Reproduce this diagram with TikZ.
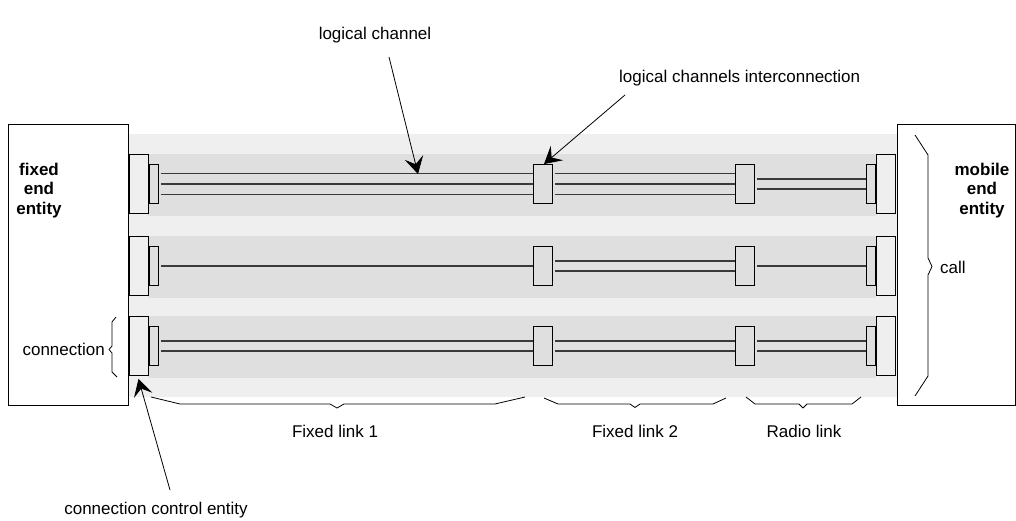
\documentclass[tikz,border=0pt]{standalone}
\usepackage{fontspec}
\setmainfont{Liberation Sans}
\usetikzlibrary{arrows.meta}
\definecolor{bandlight}{HTML}{EFEFEF}
\definecolor{banddark}{HTML}{DFDFDF}
\definecolor{chgray}{HTML}{3A3A3A}
\newcommand\chanlines[3]{%
  \foreach \o in {#3} {\draw[chline] ([xshift=3pt,yshift=\o pt]#1.east) -- ([yshift=\o pt]#2.west);}}
\begin{document}
\begin{tikzpicture}[x=1pt,y=-1pt,
  lbl/.style={font=\fontsize{17}{20}\selectfont, inner sep=0pt},
  ent/.style={font=\fontsize{17}{19.5}\selectfont\bfseries, align=center, inner sep=0pt},
  bigbox/.style={draw=black, fill=bandlight, line width=0.9pt, minimum width=19pt, minimum height=59pt, inner sep=0pt},
  smallbox/.style={draw=black, fill=banddark, line width=0.9pt, minimum width=9pt, minimum height=39pt, inner sep=0pt},
  midbox/.style={draw=black, fill=banddark, line width=0.9pt, minimum width=19pt, minimum height=39pt, inner sep=0pt},
  chline/.style={draw=chgray, line width=1.4pt},
  pointer/.style={draw=black, line width=0.8pt, >={Stealth[length=17pt,width=19pt,inset=7pt]}, ->},
  bracel/.style={draw=black, line width=0.8pt, line join=round}
]
\useasboundingbox (0,0) rectangle (1016,521);
% background bands
\fill[bandlight] (128,134) rectangle (897,397);
\foreach \yc in {184,266,346} {\fill[banddark] (148,\yc-30) rectangle (876,\yc+32);}
% end entities
\draw[line width=0.9pt, fill=white] (8,124) rectangle (128,405);
\draw[line width=0.9pt, fill=white] (897,124) rectangle (1015,405);
\node[ent, anchor=north] (fee) at (39,162.7) {fixed\\end\\entity};
\node[ent, anchor=north] (mee) at (982,162.7) {mobile\\end\\entity};
% rows
\foreach \r/\yc in {1/184,2/266,3/346} {
  \node[bigbox] (lb\r) at (138.5,\yc) {};
  \node[smallbox] (ls\r) at (153.5,\yc) {};
  \node[midbox] (ma\r) at (542.5,\yc) {};
  \node[midbox] (mb\r) at (744.5,\yc) {};
  \node[smallbox] (rs\r) at (870.5,\yc) {};
  \node[bigbox] (rb\r) at (885.5,\yc) {};
}
% logical channels
\chanlines{ls1}{ma1}{10.5,0,-10.5}
\chanlines{ma1}{mb1}{10.5,0,-10.5}
\chanlines{mb1}{rs1}{5,-5}
\chanlines{ls2}{ma2}{0}
\chanlines{ma2}{mb2}{5,-5}
\chanlines{mb2}{rs2}{0}
\chanlines{ls3}{ma3}{5,-5}
\chanlines{ma3}{mb3}{5,-5}
\chanlines{mb3}{rs3}{5,-5}
% labels
\node[lbl, anchor=base] (lc) at (375,40) {logical channel};
\node[lbl, anchor=base west] (lci) at (619,83) {logical channels interconnection};
\node[lbl, anchor=base] (fl1) at (335,437) {Fixed link 1};
\node[lbl, anchor=base] (fl2) at (635,437) {Fixed link 2};
\node[lbl, anchor=base] (rl) at (804,437) {Radio link};
\node[lbl, anchor=base east] (cn) at (105,355) {connection};
\node[lbl, anchor=base west] (cl) at (940,273) {call};
\node[lbl, anchor=base] (cce) at (156,514) {connection control entity};
% pointers
\coordinate (lcs) at (389,57);
\coordinate (lct) at (418,174);
\draw[pointer] (lcs) -- (lct);
\coordinate (lcis) at (625,95);
\draw[pointer] (lcis) -- ([xshift=1.5pt]ma1.north);
\coordinate (cces) at (170,490);
\draw[pointer] (cces) -- ([yshift=-3pt]lb3.south);
% braces
\draw[bracel] (116,317) -- (112,322) -- (112,346) -- (109,349.5) -- (112,353) -- (112,372) -- (117,377);
\draw[bracel] (915,135) -- (928,155) -- (928,258) -- (932,266.5) -- (928,275) -- (928,376) -- (915,396);
\draw[bracel] (151,397) -- (180,404) -- (330,404) -- (337,408) -- (344,404) -- (495,404) -- (525,397);
\draw[bracel] (544,398) -- (558,404) -- (630,404) -- (635,407.5) -- (640,404) -- (713,404) -- (726,398);
\draw[bracel] (746,397) -- (755,404) -- (799,404) -- (803,408) -- (807,404) -- (852,404) -- (861,397);
\end{tikzpicture}
\end{document}
